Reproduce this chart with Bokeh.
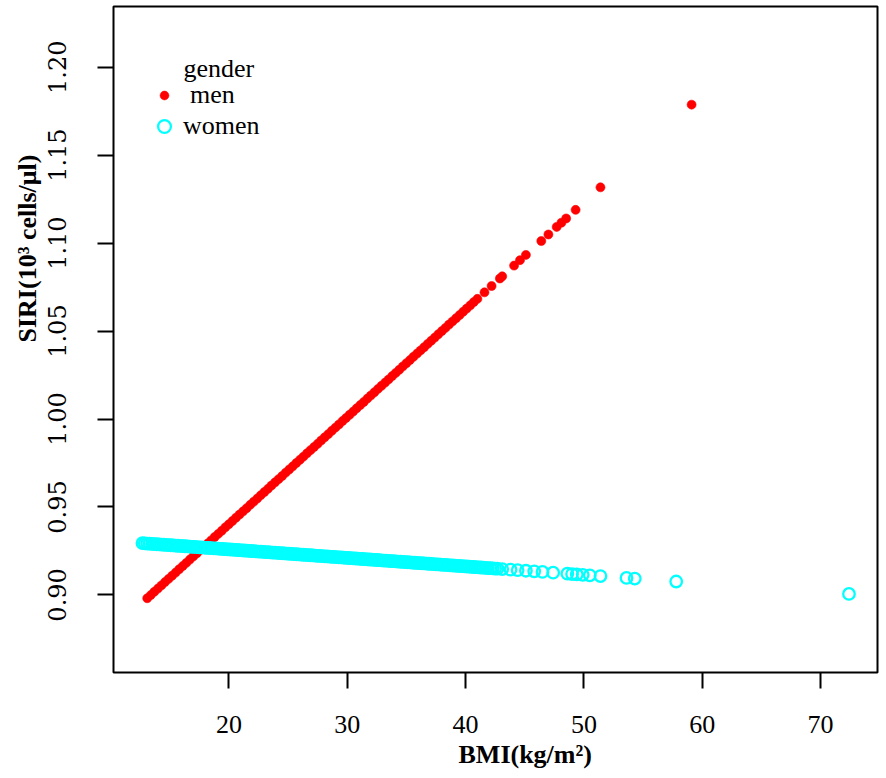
from bokeh.plotting import figure
from bokeh.models import Range1d, FixedTicker, Label, Legend, LegendItem, PrintfTickFormatter, Title
from bokeh.embed import file_html
from bokeh.resources import INLINE

# ---------------- data ----------------
men_bmi = [13.1, 13.4, 13.7, 14.0, 14.3, 14.6, 14.9, 15.2, 15.5, 15.8,
           16.1, 16.4, 16.7, 17.0, 17.3, 17.6, 17.9, 18.2, 18.5, 18.8,
           19.1, 19.4, 19.7, 20.0, 20.3, 20.6, 20.9, 21.2, 21.5, 21.8,
           22.1, 22.4, 22.7, 23.0, 23.3, 23.6, 23.9, 24.2, 24.5, 24.8,
           25.1, 25.4, 25.7, 26.0, 26.3, 26.6, 26.9, 27.2, 27.5, 27.8,
           28.1, 28.4, 28.7, 29.0, 29.3, 29.6, 29.9, 30.2, 30.5, 30.8,
           31.1, 31.4, 31.7, 32.0, 32.3, 32.6, 32.9, 33.2, 33.5, 33.8,
           34.1, 34.4, 34.7, 35.0, 35.3, 35.6, 35.9, 36.2, 36.5, 36.8,
           37.1, 37.4, 37.7, 38.0, 38.3, 38.6, 38.9, 39.2, 39.5, 39.8,
           40.1, 40.4, 40.7, 41.0,
           41.6, 42.2, 42.9, 43.1, 44.1, 44.6, 45.1, 46.4, 47.0, 47.7,
           48.1, 48.5, 49.3, 51.4, 59.1]
men_siri = [0.8981, 0.8999, 0.9018, 0.9036, 0.9054, 0.9073, 0.9091, 0.9109, 0.9127, 0.9146,
            0.9164, 0.9182, 0.9201, 0.9219, 0.9237, 0.9256, 0.9274, 0.9292, 0.9310, 0.9329,
            0.9347, 0.9365, 0.9384, 0.9402, 0.9420, 0.9439, 0.9457, 0.9475, 0.9493, 0.9512,
            0.9530, 0.9548, 0.9567, 0.9585, 0.9603, 0.9622, 0.9640, 0.9658, 0.9676, 0.9695,
            0.9713, 0.9731, 0.9750, 0.9768, 0.9786, 0.9805, 0.9823, 0.9841, 0.9859, 0.9878,
            0.9896, 0.9914, 0.9933, 0.9951, 0.9969, 0.9988, 1.0006, 1.0024, 1.0042, 1.0061,
            1.0079, 1.0097, 1.0116, 1.0134, 1.0152, 1.0171, 1.0189, 1.0207, 1.0225, 1.0244,
            1.0262, 1.0280, 1.0299, 1.0317, 1.0335, 1.0354, 1.0372, 1.0390, 1.0408, 1.0427,
            1.0445, 1.0463, 1.0482, 1.0500, 1.0518, 1.0537, 1.0555, 1.0573, 1.0591, 1.0610,
            1.0628, 1.0646, 1.0665, 1.0683,
            1.0720, 1.0756, 1.0799, 1.0811, 1.0872, 1.0903, 1.0933, 1.1012, 1.1049, 1.1092,
            1.1116, 1.1140, 1.1189, 1.1317, 1.1787]

women_bmi = [12.7, 12.9, 13.1, 13.3, 13.5, 13.7, 13.9, 14.1, 14.3, 14.5,
             14.7, 14.9, 15.1, 15.3, 15.5, 15.7, 15.9, 16.1, 16.3, 16.5,
             16.7, 16.9, 17.1, 17.3, 17.5, 17.7, 17.9, 18.1, 18.3, 18.5,
             18.7, 18.9, 19.1, 19.3, 19.5, 19.7, 19.9, 20.1, 20.3, 20.5,
             20.7, 20.9, 21.1, 21.3, 21.5, 21.7, 21.9, 22.1, 22.3, 22.5,
             22.7, 22.9, 23.1, 23.3, 23.5, 23.7, 23.9, 24.1, 24.3, 24.5,
             24.7, 24.9, 25.1, 25.3, 25.5, 25.7, 25.9, 26.1, 26.3, 26.5,
             26.7, 26.9, 27.1, 27.3, 27.5, 27.7, 27.9, 28.1, 28.3, 28.5,
             28.7, 28.9, 29.1, 29.3, 29.5, 29.7, 29.9, 30.1, 30.3, 30.5,
             30.7, 30.9, 31.1, 31.3, 31.5, 31.7, 31.9, 32.1, 32.3, 32.5,
             32.7, 32.9, 33.1, 33.3, 33.5, 33.7, 33.9, 34.1, 34.3, 34.5,
             34.7, 34.9, 35.1, 35.3, 35.5, 35.7, 35.9, 36.1, 36.3, 36.5,
             36.7, 36.9, 37.1, 37.3, 37.5, 37.7, 37.9, 38.1, 38.3, 38.5,
             38.7, 38.9, 39.1, 39.3, 39.5, 39.7, 39.9, 40.1, 40.3, 40.5,
             40.7, 40.9, 41.1, 41.3, 41.5, 41.7, 41.9, 42.1, 42.3, 42.5,
             42.7,
             43.1, 43.8, 44.4, 45.1, 45.8, 46.5, 47.4, 48.6, 49.0, 49.4,
             49.9, 50.5, 51.4, 53.6, 54.3, 57.8, 72.4]
women_siri = [0.92940, 0.92930, 0.92921, 0.92911, 0.92901, 0.92892, 0.92882, 0.92872, 0.92863, 0.92853,
              0.92843, 0.92834, 0.92824, 0.92814, 0.92805, 0.92795, 0.92785, 0.92776, 0.92766, 0.92756,
              0.92747, 0.92737, 0.92727, 0.92718, 0.92708, 0.92699, 0.92689, 0.92679, 0.92670, 0.92660,
              0.92650, 0.92641, 0.92631, 0.92621, 0.92612, 0.92602, 0.92592, 0.92583, 0.92573, 0.92563,
              0.92554, 0.92544, 0.92534, 0.92525, 0.92515, 0.92505, 0.92496, 0.92486, 0.92476, 0.92467,
              0.92457, 0.92447, 0.92438, 0.92428, 0.92418, 0.92409, 0.92399, 0.92389, 0.92380, 0.92370,
              0.92360, 0.92351, 0.92341, 0.92331, 0.92322, 0.92312, 0.92302, 0.92293, 0.92283, 0.92273,
              0.92264, 0.92254, 0.92244, 0.92235, 0.92225, 0.92216, 0.92206, 0.92196, 0.92187, 0.92177,
              0.92167, 0.92158, 0.92148, 0.92138, 0.92129, 0.92119, 0.92109, 0.92100, 0.92090, 0.92080,
              0.92071, 0.92061, 0.92051, 0.92042, 0.92032, 0.92022, 0.92013, 0.92003, 0.91993, 0.91984,
              0.91974, 0.91964, 0.91955, 0.91945, 0.91935, 0.91926, 0.91916, 0.91906, 0.91897, 0.91887,
              0.91877, 0.91868, 0.91858, 0.91848, 0.91839, 0.91829, 0.91819, 0.91810, 0.91800, 0.91790,
              0.91781, 0.91771, 0.91761, 0.91752, 0.91742, 0.91732, 0.91723, 0.91713, 0.91703, 0.91694,
              0.91684, 0.91674, 0.91665, 0.91655, 0.91645, 0.91636, 0.91626, 0.91616, 0.91607, 0.91597,
              0.91587, 0.91578, 0.91568, 0.91558, 0.91549, 0.91539, 0.91529, 0.91520, 0.91510, 0.91500,
              0.91491,
              0.91472, 0.91438, 0.91409, 0.91375, 0.91341, 0.91307, 0.91264, 0.91206, 0.91187, 0.91167,
              0.91143, 0.91114, 0.91071, 0.90965, 0.90931, 0.90762, 0.90057]

x_ticks = [20, 30, 40, 50, 60, 70]
y_ticks = [0.90, 0.95, 1.00, 1.05, 1.10, 1.15, 1.20]
x_title = "BMI(kg/m²)"
y_title = "SIRI(10³ cells/μl)"
legend_title = "gender"
group_labels = ["men", "women"]

SERIF = "Liberation Serif"

# ---------------- figure ----------------
p = figure(width=886, height=778, output_backend="svg", toolbar_location=None,
           x_range=Range1d(10.25, 74.81), y_range=Range1d(0.8559, 1.2345),
           min_border_left=113, min_border_right=9, min_border_top=6, min_border_bottom=106)
p.background_fill_color = "white"
p.border_fill_color = "white"
p.xgrid.visible = False
p.ygrid.visible = False
p.outline_line_color = "black"
p.outline_line_width = 2

r_men = p.scatter(x=men_bmi, y=men_siri, size=9, marker="circle",
                  fill_color="#FF0000", line_color="#FF0000", line_width=0.6)
r_women = p.scatter(x=women_bmi, y=women_siri, size=11.5, marker="circle",
                    fill_color=None, line_color="#00FFFF", line_width=2.3)

for ax in (p.xaxis[0], p.yaxis[0]):
    ax.axis_line_color = None
    ax.major_tick_out = 16
    ax.major_tick_in = 0
    ax.major_tick_line_width = 2
    ax.major_tick_line_color = "black"
    ax.minor_tick_line_color = None
    ax.major_label_text_color = "black"

p.xaxis.ticker = FixedTicker(ticks=x_ticks)
p.yaxis.ticker = FixedTicker(ticks=y_ticks)
p.yaxis.formatter = PrintfTickFormatter(format="%.2f")
p.xaxis.major_label_text_font = SERIF
p.xaxis.major_label_text_font_size = "26px"
p.xaxis.major_label_standoff = 27
p.yaxis.major_label_text_font = "DejaVu Serif"
p.yaxis.major_label_text_font_size = "24px"
p.yaxis.major_label_orientation = "parallel"
p.yaxis.major_label_standoff = 31

# axis titles, placed off-centre like the reference
p.add_layout(Title(text=x_title, align="left", offset=345, standoff=4,
                   text_font=SERIF, text_font_size="26px", text_font_style="bold",
                   text_color="black"), "below")
p.add_layout(Title(text=y_title, align="left", offset=330, standoff=8,
                   text_font=SERIF, text_font_size="26px", text_font_style="bold",
                   text_color="black"), "left")

# legend
p.add_layout(Label(x=70, y=604, x_units="screen", y_units="screen", text=legend_title,
                   text_font=SERIF, text_font_size="26px", text_align="left",
                   text_baseline="middle", text_color="black"))

def make_legend(label, rend, loc, gw, gh, standoff):
    return Legend(items=[LegendItem(label=label, renderers=[rend])], location=loc,
                  glyph_width=gw, glyph_height=gh, label_height=gh, label_standoff=standoff,
                  padding=0, margin=0, spacing=0, border_line_color=None,
                  background_fill_alpha=0, label_text_font=SERIF,
                  label_text_font_size="26px", label_text_color="black")

p.add_layout(make_legend(group_labels[0], r_men, (40, 561), 22, 32, 15), "center")
p.add_layout(make_legend(group_labels[1], r_women, (35, 530), 32, 32, 3), "center")

open("out.html", "w").write(file_html(p, INLINE))
